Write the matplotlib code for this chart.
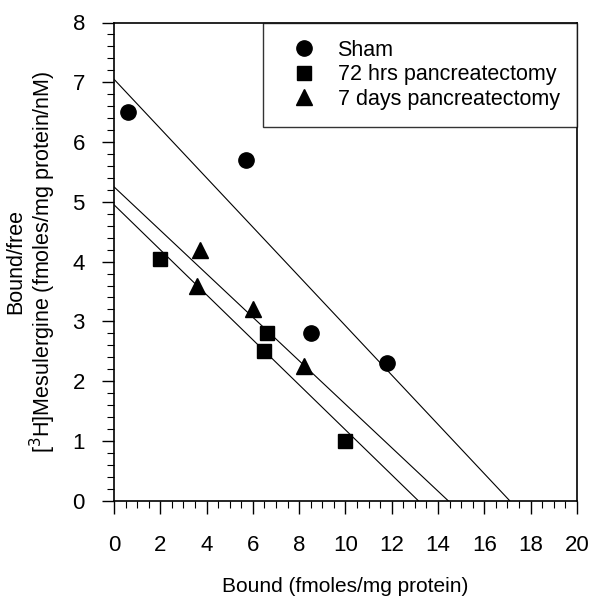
import numpy as np
import matplotlib
matplotlib.use("Agg")
import matplotlib.pyplot as plt
from matplotlib.ticker import MultipleLocator

plt.rcParams['font.family'] = ['Liberation Sans', 'DejaVu Sans']

# Data
sham_x = [0.6, 5.7, 8.5, 11.8]
sham_y = [6.5, 5.7, 2.8, 2.3]
hrs72_x = [2.0, 6.6, 6.5, 10.0]
hrs72_y = [4.05, 2.8, 2.5, 1.0]
days7_x = [3.7, 3.6, 6.0, 8.2]
days7_y = [4.2, 3.6, 3.2, 2.25]

# Fitted Scatchard lines: (y-intercept, x-intercept)
sham_fit = (7.05, 17.1)
hrs72_fit = (4.95, 13.15)
days7_fit = (5.25, 14.44)

labels = ["Sham", "72 hrs pancreatectomy", "7 days pancreatectomy"]
xticks = [0, 2, 4, 6, 8, 10, 12, 14, 16, 18, 20]
yticks = [0, 1, 2, 3, 4, 5, 6, 7, 8]

fig = plt.figure(figsize=(5.94, 6.0), dpi=100)
ax = fig.add_axes([0.192, 0.1655, 0.779, 0.797])

for (b, xi) in (sham_fit, hrs72_fit, days7_fit):
    ax.plot([0, xi], [b, 0], color='black', lw=0.8, zorder=2)

ax.plot(sham_x, sham_y, 'o', color='black', ms=11, label=labels[0], zorder=3)
ax.plot(hrs72_x, hrs72_y, 's', color='black', ms=10, label=labels[1], zorder=3)
ax.plot(days7_x, days7_y, '^', color='black', ms=11.5, label=labels[2], zorder=3)

ax.set_xlim(0, 20)
ax.set_ylim(0, 8)
ax.set_xticks(xticks)
ax.set_yticks(yticks)
ax.xaxis.set_minor_locator(MultipleLocator(0.5))
ax.yaxis.set_minor_locator(MultipleLocator(0.2))
ax.tick_params(axis='both', which='major', labelsize=16, length=9, width=1,
               direction='out', colors='black')
ax.tick_params(axis='x', which='major', pad=15.5)
ax.tick_params(axis='y', which='major', pad=12)
ax.tick_params(axis='x', which='minor', length=5, width=0.8, direction='out')
ax.tick_params(axis='y', which='minor', length=5, width=0.8, direction='out')
for s in ax.spines.values():
    s.set_linewidth(1.2)

ax.set_xlabel("Bound (fmoles/mg protein)", fontsize=15, labelpad=15)
ax.set_ylabel("Bound/free\n[$^3$H]Mesulergine (fmoles/mg protein/nM)", fontsize=15.5,
              labelpad=10, linespacing=1.1)

leg = ax.legend(loc='upper right', fontsize=15.5, frameon=True, fancybox=False,
                edgecolor='black', borderaxespad=0.0, handlelength=2.12,
                handletextpad=0.52, borderpad=0.8, labelspacing=0.16,
                bbox_to_anchor=(1.0, 1.0))
leg.get_frame().set_linewidth(1.0)

fig.savefig("out.png", dpi=100)
